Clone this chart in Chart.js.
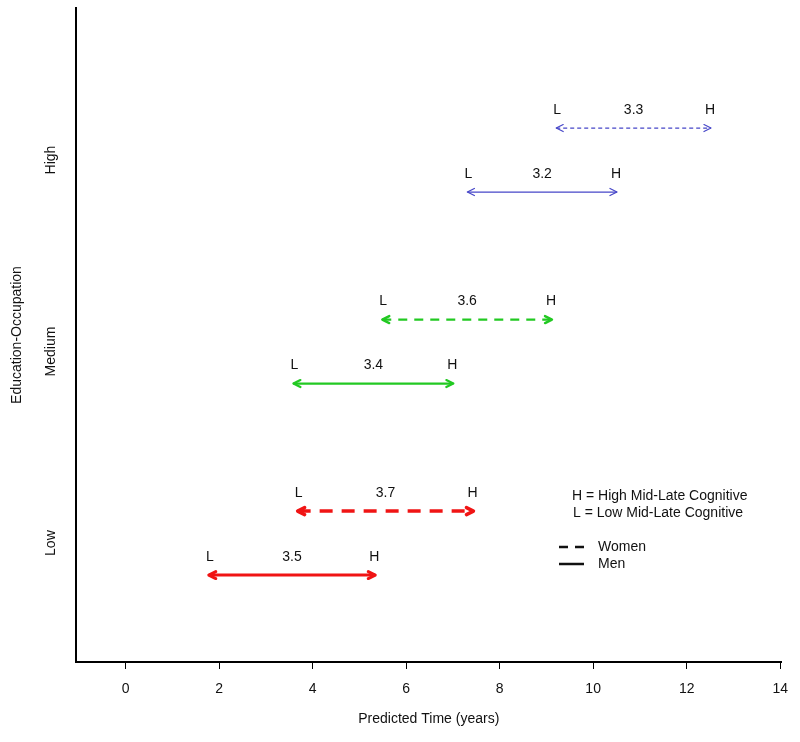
<!DOCTYPE html>
<html>
<head>
<meta charset="utf-8">
<script src="https://cdn.jsdelivr.net/npm/chart.js@4/dist/chart.umd.min.js"></script>
<style>
	html, body { margin: 0; padding: 0; background: #fff; }
	#wrap { width: 800px; height: 742px; }
</style>
</head>
<body>
<div id="wrap"><canvas id="chart"></canvas></div>
<script>
// Data
const categories = ['Low', 'Medium', 'High'];
const menLow = [1.78, 3.59, 7.31];
const menHigh = [5.34, 7.01, 10.51];
const womenLow = [3.68, 5.49, 9.21];
const womenHigh = [7.44, 9.12, 12.52];
const menDiff = ['3.5', '3.4', '3.2'];
const womenDiff = ['3.7', '3.6', '3.3'];
const xTicks = [0, 2, 4, 6, 8, 10, 12, 14];

const colors = ['#f01414', '#22c922', '#4646c8'];
const menWidths = [3, 2.2, 1.3];
const womenWidths = [3.5, 2.4, 1.2];
const womenDash = [[13, 9], [9, 7], [4, 3]];
const offset = 0.167;
const FONT = '"Liberation Sans", Arial, sans-serif';

let datasets = [];
categories.forEach((cat, i) => {
	datasets.push({
		label: cat + ' women',
		data: [{ x: womenLow[i], y: i + 1 + offset }, { x: womenHigh[i], y: i + 1 + offset }],
		borderColor: colors[i],
		borderWidth: womenWidths[i],
		borderDash: womenDash[i],
		pointRadius: 0,
		diff: womenDiff[i],
	});
	datasets.push({
		label: cat + ' men',
		data: [{ x: menLow[i], y: i + 1 - offset }, { x: menHigh[i], y: i + 1 - offset }],
		borderColor: colors[i],
		borderWidth: menWidths[i],
		pointRadius: 0,
		diff: menDiff[i],
	});
});

// arrow heads, L/H labels, y category labels and the key
const extras = {
	id: 'extras',
	afterDatasetsDraw(chart) {
		const ctx = chart.ctx;
		const area = chart.chartArea;
		const yScale = chart.scales.y;
		ctx.save();
		chart.data.datasets.forEach((ds, i) => {
			const pts = chart.getDatasetMeta(i).data;
			const a = pts[0], b = pts[1];
			ctx.strokeStyle = ds.borderColor;
			ctx.lineWidth = ds.borderWidth;
			ctx.setLineDash([]);
			ctx.lineCap = 'round';
			ctx.lineJoin = 'round';
			const len = 7;
			[[a, 1], [b, -1]].forEach(([p, dir]) => {
				ctx.beginPath();
				ctx.moveTo(p.x + dir * len, p.y - len * 0.5);
				ctx.lineTo(p.x, p.y);
				ctx.lineTo(p.x + dir * len, p.y + len * 0.5);
				ctx.stroke();
			});
			ctx.fillStyle = '#111';
			ctx.font = '14px ' + FONT;
			ctx.textAlign = 'center';
			ctx.textBaseline = 'middle';
			ctx.fillText('L', a.x + 1, a.y - 18);
			ctx.fillText('H', b.x - 1, b.y - 18);
			ctx.fillText(ds.diff, (a.x + b.x) / 2, a.y - 18);
		});

		// rotated category labels
		ctx.fillStyle = '#111';
		ctx.font = '14px ' + FONT;
		categories.forEach((cat, i) => {
			ctx.save();
			ctx.translate(51, yScale.getPixelForValue(i + 1));
			ctx.rotate(-Math.PI / 2);
			ctx.textAlign = 'center';
			ctx.textBaseline = 'middle';
			ctx.fillText(cat, 0, 0);
			ctx.restore();
		});

		// key
		const kx = area.left + 496;
		ctx.textAlign = 'left';
		ctx.textBaseline = 'middle';
		ctx.fillText('H = High Mid-Late Cognitive', kx, 496);
		ctx.fillText('L = Low Mid-Late Cognitive', kx + 1, 513);
		ctx.fillText('Women', kx + 26, 547);
		ctx.fillText('Men', kx + 26, 564);
		ctx.strokeStyle = '#111';
		ctx.lineWidth = 2.5;
		ctx.lineCap = 'butt';
		ctx.setLineDash([9, 7]);
		ctx.beginPath();
		ctx.moveTo(kx - 13, 547);
		ctx.lineTo(kx + 12, 547);
		ctx.stroke();
		ctx.setLineDash([]);
		ctx.beginPath();
		ctx.moveTo(kx - 13, 564);
		ctx.lineTo(kx + 12, 564);
		ctx.stroke();
		ctx.restore();
	},
};

new Chart(document.getElementById('chart'), {
	type: 'line',
	data: { datasets: datasets },
	options: {
		responsive: true,
		maintainAspectRatio: false,
		animation: false,
		layout: { padding: { top: 8, right: 18, left: 0, bottom: 0 } },
		plugins: {
			legend: { display: false },
			tooltip: { enabled: false },
		},
		scales: {
			x: {
				type: 'linear',
				min: -1.06,
				max: 14.03,
				afterBuildTicks: (s) => {
					s.ticks = xTicks.map((v) => ({ value: v }));
				},
				afterFit: (s) => {
					s.height = 80;
				},
				border: { color: '#000', width: 2 },
				grid: { drawOnChartArea: false, color: '#000', tickLength: 7, lineWidth: 1 },
				ticks: { color: '#111', font: { family: FONT, size: 14 }, padding: 12, maxRotation: 0 },
				title: {
					display: true,
					text: 'Predicted Time (years)',
					color: '#111',
					font: { family: FONT, size: 14 },
					padding: { top: 14, bottom: 14 },
				},
			},
			y: {
				type: 'linear',
				min: 0.379,
				max: 3.794,
				afterFit: (s) => {
					s.width = 76;
				},
				border: { color: '#000', width: 2 },
				grid: { display: false },
				ticks: { display: false },
				title: {
					display: true,
					text: 'Education-Occupation',
					color: '#111',
					font: { family: FONT, size: 14 },
					padding: { top: 9, bottom: 9 },
				},
			},
		},
	},
	plugins: [extras],
});
</script>
</body>
</html>
